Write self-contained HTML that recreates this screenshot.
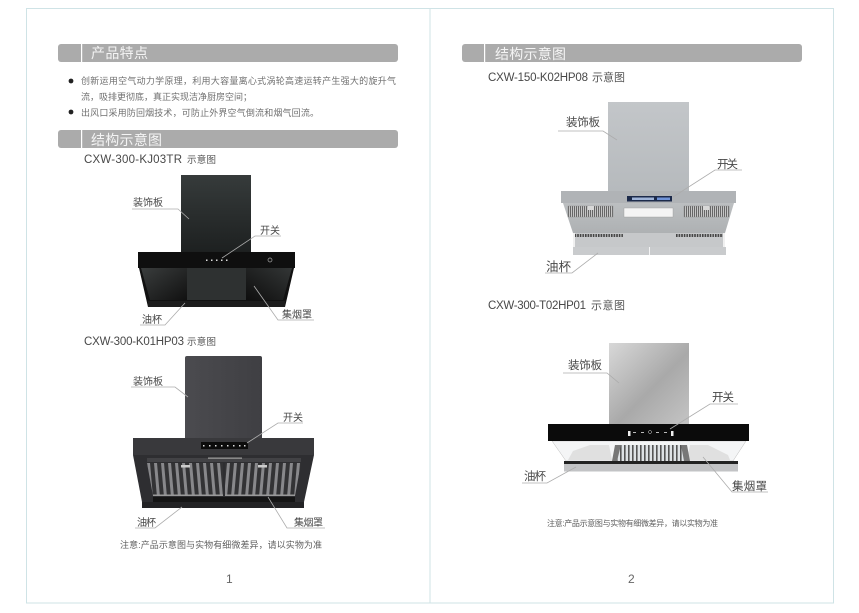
<!DOCTYPE html>
<html><head><meta charset="utf-8"><style>
html,body{margin:0;padding:0;background:#fff;width:859px;height:613px;overflow:hidden}
svg{display:block}
text{font-family:"Liberation Sans","Noto Sans CJK SC",sans-serif}
.h{font-size:14px;fill:#f4f4f4}
.b{font-size:9px;fill:#707070}
.m{font-size:11.5px;fill:#484848}
.c{font-size:9.5px;fill:#555}
.c2{font-size:11px;fill:#555}
.l{font-size:10px;fill:#484848}
.r{font-size:11.5px;fill:#484848}
.n{font-size:9px;fill:#606060}
.ln{fill:none;stroke:#acacac;stroke-width:.8}
</style></head><body>
<svg width="859" height="613" viewBox="0 0 859 613" xmlns="http://www.w3.org/2000/svg">
<defs>
<linearGradient id="p1" x1="0" y1="0" x2="0" y2="1"><stop offset="0" stop-color="#363b3b"/><stop offset="1" stop-color="#1d2020"/></linearGradient>
<linearGradient id="p2" x1="0" y1="0" x2="1" y2="0"><stop offset="0" stop-color="#4b4b4f"/><stop offset="1" stop-color="#3f3f43"/></linearGradient>
<linearGradient id="p3" x1="0" y1="0" x2="0" y2="1"><stop offset="0" stop-color="#c3c6c9"/><stop offset="1" stop-color="#b6babd"/></linearGradient>
<linearGradient id="p4" x1="0" y1="0" x2="1" y2="1"><stop offset="0" stop-color="#d8d8d8"/><stop offset=".55" stop-color="#a9a9a9"/><stop offset="1" stop-color="#c4c4c4"/></linearGradient>
<linearGradient id="s1" x1="0" y1="0" x2="1" y2="1"><stop offset="0" stop-color="#3a3d3d"/><stop offset="1" stop-color="#111"/></linearGradient>
<linearGradient id="s2" x1="1" y1="0" x2="0" y2="1"><stop offset="0" stop-color="#333636"/><stop offset="1" stop-color="#0e0e0e"/></linearGradient>
<linearGradient id="t3" x1="0" y1="0" x2="0" y2="1"><stop offset="0" stop-color="#bcbfc1"/><stop offset="1" stop-color="#aeb1b3"/></linearGradient>
<pattern id="lvL" width="7" height="40" patternUnits="userSpaceOnUse" patternTransform="skewX(5)"><rect width="7" height="40" fill="#333335"/><rect x="1.500" width="3" height="40" fill="#88888b"/></pattern>
<pattern id="lvR" width="7" height="40" patternUnits="userSpaceOnUse" patternTransform="skewX(-5)"><rect width="7" height="40" fill="#333335"/><rect x="1.500" width="3" height="40" fill="#88888b"/></pattern>
<pattern id="gr" width="2" height="12" patternUnits="userSpaceOnUse"><rect width="2" height="12" fill="#d0d0d0"/><rect width="1.100" height="12" fill="#666"/></pattern>
<pattern id="gc" width="4" height="20" patternUnits="userSpaceOnUse"><rect width="4" height="20" fill="#dfe3e6"/><rect width="1.600" height="20" fill="#555"/></pattern>
<pattern id="ds" width="2.600" height="3" patternUnits="userSpaceOnUse"><rect width="1.600" height="3" fill="#444"/></pattern>
</defs>
<rect width="859" height="613" fill="#fff"/>
<rect x="26.500" y="8.500" width="807" height="594.500" fill="none" stroke="#cfe3e6" stroke-width="1"/>
<line x1="430" y1="8.500" x2="430" y2="603" stroke="#cfe3e6" stroke-width="1"/>

<!-- Header bars -->
<rect x="58" y="44" width="340" height="18" rx="3" fill="#ababab"/><rect x="81" y="44" width="1.200" height="18" fill="#fff"/>
<text class="h" x="91" y="58" textLength="57">产品特点</text>
<rect x="58" y="130" width="340" height="18" rx="3" fill="#ababab"/><rect x="81" y="130" width="1.200" height="18" fill="#fff"/>
<text class="h" x="91" y="145" textLength="71">结构示意图</text>
<rect x="462" y="44" width="340" height="18" rx="3" fill="#ababab"/><rect x="484" y="44" width="1.200" height="18" fill="#fff"/>
<text class="h" x="495" y="59" textLength="71">结构示意图</text>

<!-- Body text -->
<circle cx="71" cy="81" r="2.400" fill="#222"/>
<text class="b" x="81" y="84" textLength="315">创新运用空气动力学原理，利用大容量离心式涡轮高速运转产生强大的旋升气</text>
<text class="b" x="81" y="100" textLength="171">流，吸排更彻底，真正实现洁净厨房空间；</text>
<circle cx="71" cy="112" r="2.400" fill="#222"/>
<text class="b" x="81" y="116" textLength="238">出风口采用防回烟技术，可防止外界空气倒流和烟气回流。</text>

<!-- Model titles -->
<text class="m" x="84" y="163" textLength="98">CXW-300-KJ03TR</text><text class="c" x="187" y="163" textLength="29">示意图</text>
<text class="m" x="84" y="345" textLength="100">CXW-300-K01HP03</text><text class="c" x="187" y="345" textLength="29">示意图</text>
<text class="m" x="488" y="81" textLength="100">CXW-150-K02HP08</text><text class="c2" x="592" y="81" textLength="33">示意图</text>
<text class="m" x="488" y="309" textLength="98">CXW-300-T02HP01</text><text class="c2" x="591" y="309" textLength="34">示意图</text>

<!-- Hood 1 -->
<rect x="181" y="175" width="70" height="78" fill="url(#p1)"/>
<polygon points="139,268 294,268 285,307 148,307" fill="#111"/>
<polygon points="141,268 187,268 187,300 150,300" fill="url(#s1)"/>
<polygon points="292,268 246,268 246,300 283,300" fill="url(#s2)"/>
<rect x="187" y="268" width="59" height="32" fill="#2e3131"/>
<rect x="148" y="301" width="137" height="6" fill="#1c1c1c"/>
<rect x="138" y="252" width="157" height="16" fill="#0f0f0f"/>
<g fill="#ddd"><rect x="206" y="259.500" width="1.500" height="1.500"/><rect x="211" y="259.500" width="1.500" height="1.500"/><rect x="216" y="259.500" width="1.500" height="1.500"/><rect x="221" y="259.500" width="1.500" height="1.500"/><rect x="226" y="259.500" width="1.500" height="1.500"/></g>
<circle cx="270" cy="260" r="2" fill="none" stroke="#aaa" stroke-width=".7"/>

<!-- Hood 2 -->
<path d="M185 358q0-2 2-2h73q2 0 2 2v80h-77z" fill="url(#p2)"/>
<polygon points="133,455 314,455 304,502 142,502" fill="#2e2e31"/>
<rect x="133" y="438" width="181" height="17" fill="#39393c"/>
<rect x="201" y="442" width="47" height="7" fill="#0c0c0c"/>
<g fill="#ddd"><rect x="203" y="445" width="1.500" height="1.500"/><rect x="209" y="445" width="1.500" height="1.500"/><rect x="215" y="445" width="1.500" height="1.500"/><rect x="221" y="445" width="1.500" height="1.500"/><rect x="227" y="445" width="1.500" height="1.500"/><rect x="233" y="445" width="1.500" height="1.500"/><rect x="239" y="445" width="1.500" height="1.500"/><rect x="244" y="445" width="1.500" height="1.500"/></g>
<polygon points="147,463 223,463 223,496 153,496" fill="url(#lvL)"/>
<polygon points="225,463 301,463 295,496 225,496" fill="url(#lvR)"/>
<rect x="147" y="458" width="154" height="4" fill="#424245"/>
<rect x="208" y="457.500" width="34" height="1.300" fill="#999"/>
<rect x="181" y="465" width="9" height="2.500" fill="#ccc"/><rect x="258" y="465" width="9" height="2.500" fill="#ccc"/>
<rect x="153" y="494.500" width="70" height="1.500" fill="#999"/><rect x="225" y="494.500" width="70" height="1.500" fill="#999"/>
<rect x="153" y="497" width="142" height="5" fill="#151515"/>
<rect x="142" y="502" width="162" height="6" fill="#232325"/>

<!-- Hood 3 -->
<rect x="608" y="102" width="81" height="89" fill="url(#p3)"/>
<polygon points="563,203 734,203 725,233 573,233" fill="url(#t3)"/>
<rect x="561" y="191" width="175" height="12" fill="#b0b3b6"/>
<rect x="627" y="196" width="45" height="5.500" fill="#1c2a4a"/>
<rect x="632" y="197.500" width="22" height="2.500" fill="#9fb4d8"/><rect x="657" y="197.500" width="13" height="2.500" fill="#6f93d8"/>
<rect x="568" y="206" width="45" height="11" fill="url(#gr)" stroke="#8f8f8f" stroke-width=".4"/>
<rect x="684" y="206" width="45" height="11" fill="url(#gr)" stroke="#8f8f8f" stroke-width=".4"/>
<rect x="588" y="206" width="6" height="4" fill="#d8d8d8"/><rect x="703" y="206" width="6" height="4" fill="#d8d8d8"/>
<rect x="624" y="208" width="49" height="9" fill="#f4f4f4" stroke="#999" stroke-width=".4"/>
<rect x="575" y="233" width="149" height="14" fill="#c6c8ca"/>
<rect x="575" y="234" width="48" height="3" fill="url(#ds)"/><rect x="676" y="234" width="48" height="3" fill="url(#ds)"/>
<rect x="573" y="233" width="2" height="15" fill="#f0f0f0"/><rect x="723" y="233" width="2" height="15" fill="#f0f0f0"/>
<rect x="573" y="247" width="153" height="8" fill="#c9cbcd"/>
<rect x="649" y="247" width=".8" height="8" fill="#fff"/>

<!-- Hood 4 -->
<rect x="609" y="343" width="80" height="81" fill="url(#p4)"/>
<polygon points="552,441 746,441 733,461 566,461" fill="#f4f5f6" stroke="#bbb" stroke-width=".5"/>
<polygon points="573,451 590,445 609,445 612,460 568,460" fill="#e0e0e0"/>
<polygon points="690,445 708,445 728,455 730,460 687,460" fill="#e0e0e0"/>
<rect x="615" y="445" width="72" height="16" fill="url(#gc)"/>
<polygon points="615,445 621,445 617,461 612,461" fill="#777"/><polygon points="681,445 687,445 690,461 684,461" fill="#777"/>
<rect x="564" y="461" width="174" height="3" fill="#222"/>
<rect x="564" y="464" width="174" height="7.500" fill="#c2c3c5"/>
<rect x="548" y="424" width="201" height="17" fill="#0b0b0b"/>
<rect x="628" y="431" width="2.500" height="5" fill="#eee"/><rect x="671" y="431" width="2.500" height="5" fill="#eee"/>
<g fill="#bbb"><rect x="633" y="432" width="3" height="1"/><rect x="641" y="432" width="3" height="1"/><rect x="656" y="432" width="3" height="1"/><rect x="664" y="432" width="3" height="1"/></g>
<circle cx="650" cy="432" r="1.500" fill="none" stroke="#ddd" stroke-width=".5"/>

<!-- Leader lines -->
<polyline class="ln" points="132,209 178,209 189,219"/>
<polyline class="ln" points="281,236 255,236 222,258"/>
<polyline class="ln" points="314,320 278,320 254,286"/>
<polyline class="ln" points="140,325 165,325 185,303"/>
<polyline class="ln" points="131,387 175,387 188,397"/>
<polyline class="ln" points="303,423 278,423 247,443"/>
<polyline class="ln" points="325,528 287,528 268,497"/>
<polyline class="ln" points="135,528 155,528 182,507"/>
<polyline class="ln" points="558,131 603,131 617,140"/>
<polyline class="ln" points="742,170 715,170 673,197"/>
<polyline class="ln" points="545,273 572,273 598,253"/>
<polyline class="ln" points="563,373 607,373 619,383"/>
<polyline class="ln" points="738,404 710,404 670,429"/>
<polyline class="ln" points="522,483 547,483 576,467"/>
<polyline class="ln" points="768,492 732,492 703,457"/>

<!-- Labels -->
<text class="l" x="133" y="206" textLength="30">装饰板</text>
<text class="l" x="260" y="234" textLength="20">开关</text>
<text class="l" x="282" y="318" textLength="30">集烟罩</text>
<text class="l" x="142" y="323" textLength="20">油杯</text>
<text class="l" x="133" y="385" textLength="30">装饰板</text>
<text class="l" x="283" y="421" textLength="20">开关</text>
<text class="l" x="294" y="526" textLength="29">集烟罩</text>
<text class="l" x="137" y="526" textLength="19">油杯</text>
<text class="r" x="566" y="126" textLength="34">装饰板</text>
<text class="r" x="717" y="168" textLength="21">开关</text>
<text class="r" x="546" y="271" style="font-size:12.500px" textLength="25">油杯</text>
<text class="r" x="568" y="369" textLength="34">装饰板</text>
<text class="r" x="712" y="401" textLength="22">开关</text>
<text class="r" x="524" y="480" textLength="22">油杯</text>
<text class="r" x="732" y="490" textLength="35">集烟罩</text>

<!-- Notes -->
<text class="n" x="120" y="548" textLength="202">注意:产品示意图与实物有细微差异，请以实物为准</text>
<text class="n" x="547" y="526" style="font-size:8px" textLength="171">注意:产品示意图与实物有细微差异，请以实物为准</text>

<!-- Page numbers -->
<text x="226" y="583" style="font-size:12px;fill:#666">1</text>
<text x="628" y="583" style="font-size:12px;fill:#666">2</text>
</svg>
</body></html>
